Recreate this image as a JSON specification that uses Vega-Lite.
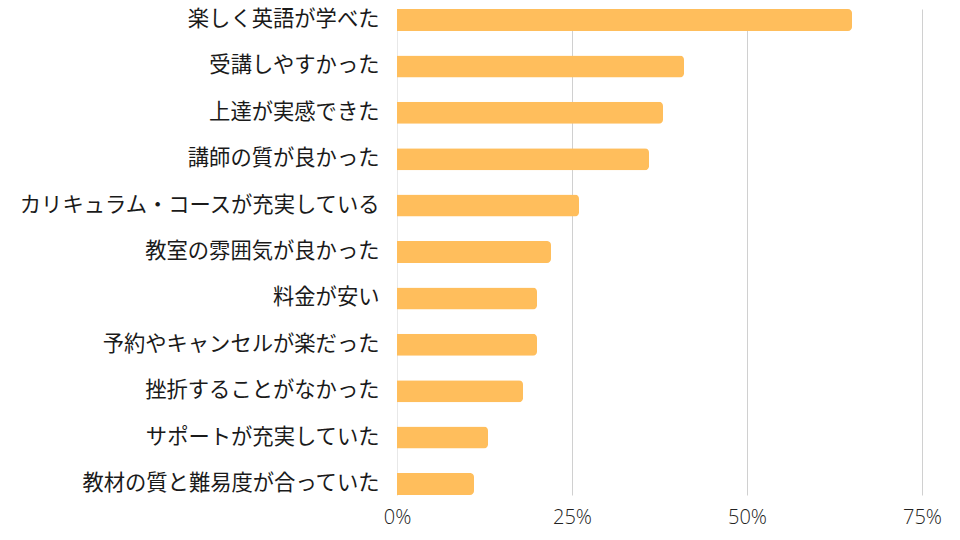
{
  "$schema": "https://vega.github.io/schema/vega-lite/v6.json",
  "autosize": "none",
  "width": 525,
  "height": 486,
  "padding": {"left": 397, "top": 9, "right": 38, "bottom": 45},
  "background": "white",
  "config": {"view": {"stroke": null}},
  "data": {
    "values": [
      {"item": "楽しく英語が学べた", "pct": 0.65},
      {"item": "受講しやすかった", "pct": 0.41},
      {"item": "上達が実感できた", "pct": 0.38},
      {"item": "講師の質が良かった", "pct": 0.36},
      {"item": "カリキュラム・コースが充実している", "pct": 0.26},
      {"item": "教室の雰囲気が良かった", "pct": 0.22},
      {"item": "料金が安い", "pct": 0.20},
      {"item": "予約やキャンセルが楽だった", "pct": 0.20},
      {"item": "挫折することがなかった", "pct": 0.18},
      {"item": "サポートが充実していた", "pct": 0.13},
      {"item": "教材の質と難易度が合っていた", "pct": 0.11}
    ]
  },
  "mark": {"type": "bar", "color": "#FFBE5C", "cornerRadiusEnd": 4},
  "encoding": {
    "y": {
      "field": "item",
      "type": "nominal",
      "sort": null,
      "scale": {"paddingInner": 0.525, "paddingOuter": 0},
      "axis": {
        "title": null,
        "ticks": false,
        "domain": true,
        "domainColor": "#e8e8e8",
        "labelFont": "Noto Sans CJK JP",
        "labelFontSize": 21.3,
        "labelColor": "#1a1a1a",
        "labelPadding": 18,
        "labelLimit": 400
      }
    },
    "x": {
      "field": "pct",
      "type": "quantitative",
      "scale": {"domain": [0, 0.75], "nice": false},
      "axis": {
        "title": null,
        "format": ".0%",
        "values": [0, 0.25, 0.5, 0.75],
        "ticks": false,
        "domain": false,
        "grid": true,
        "gridColor": {"condition": {"test": "datum.value === 0", "value": "#ececec"}, "value": "#d0d0d0"},
        "labelFont": "Open Sans",
        "labelFontWeight": 300,
        "labelFontSize": 20,
        "labelColor": "#222222",
        "labelPadding": 12,
        "labelFlush": false
      }
    }
  }
}
